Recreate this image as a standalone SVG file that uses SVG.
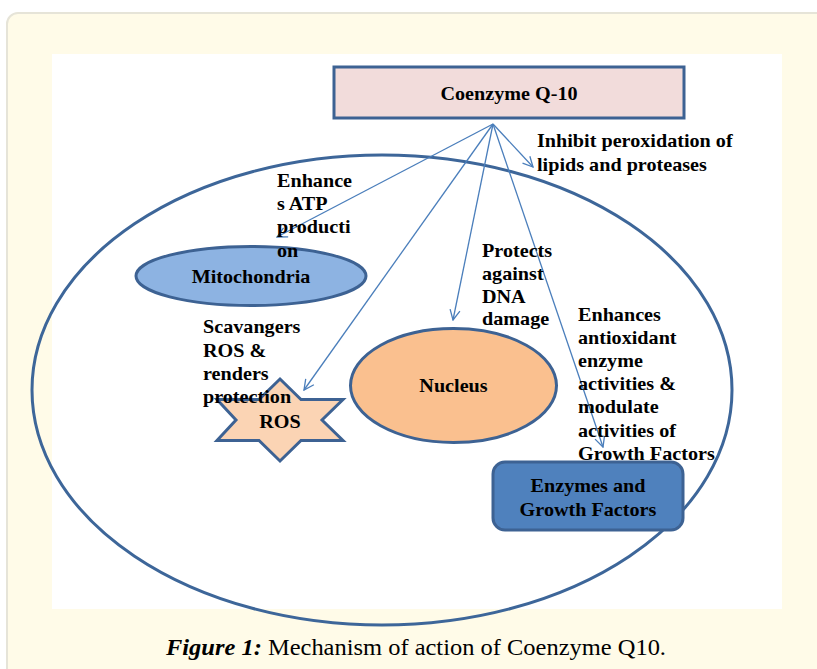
<svg xmlns="http://www.w3.org/2000/svg" width="817" height="669" viewBox="0 0 817 669">
<style>
.lbl{font-family:"Liberation Serif","Times New Roman",serif;font-weight:bold;font-size:18px;fill:#000}
.edge{stroke:#4a7ebb;stroke-width:1.3;fill:none}
.shape{stroke:#3d6293;stroke-width:3}
</style>
<defs>
<marker id="open" viewBox="0 0 12 12" refX="11" refY="6" markerWidth="12" markerHeight="12" markerUnits="userSpaceOnUse" orient="auto">
<path d="M1,1 L11,6 L1,11" fill="none" stroke="#4a7ebb" stroke-width="1.3"/>
</marker>
</defs>
<rect x="0" y="0" width="817" height="669" fill="#ffffff"/>
<rect id="panel" x="7" y="13" width="840" height="690" rx="11" fill="#fffbe8" stroke="#e6e4d8" stroke-width="2"/>
<rect id="canvas" x="52" y="54" width="730" height="555" fill="#ffffff"/>

<g id="cell">
<ellipse cx="382" cy="390" rx="350" ry="235" fill="none" stroke="#3d6699" stroke-width="3"/>
</g>

<g id="mitochondria">
<ellipse class="shape" cx="251" cy="276" rx="115" ry="29.5" fill="#8db3e2"/>
<g transform="translate(251,0) scale(1.12,1)"><text class="lbl" x="0" y="283" text-anchor="middle">Mitochondria</text></g>
</g>

<g id="nucleus">
<ellipse class="shape" cx="453.5" cy="385.5" rx="103" ry="57" fill="#fac08f"/>
<g transform="translate(453.5,0) scale(1.12,1)"><text class="lbl" x="0" y="392" text-anchor="middle">Nucleus</text></g>
</g>

<g id="ros">
<polygon class="shape" stroke-width="2.5" fill="#fbd4b4" points="280,379 301,399.5 343,399.5 322,420 343,440.5 301,440.5 280,461 259,440.5 217,440.5 236,420 217,399.5 259,399.5"/>
<g transform="translate(280,0) scale(1.12,1)"><text class="lbl" x="0" y="428" text-anchor="middle">ROS</text></g>
</g>

<g id="enzymes">
<rect class="shape" stroke-width="2.5" x="493" y="462" width="190" height="68" rx="12" fill="#4f81bd"/>
<g transform="translate(588,0) scale(1.12,1)">
<text class="lbl" x="0" y="492" text-anchor="middle">Enzymes and</text>
<text class="lbl" x="0" y="516" text-anchor="middle">Growth Factors</text>
</g>
</g>

<g id="coenzyme">
<rect class="shape" x="334" y="67" width="350" height="51" fill="#f2dcdb"/>
<g transform="translate(509,0) scale(1.12,1)"><text class="lbl" x="0" y="100" text-anchor="middle">Coenzyme Q-10</text></g>
</g>

<g id="connectors">
<line class="edge" x1="493" y1="124" x2="533" y2="167" marker-end="url(#open)"/>
<line class="edge" x1="493" y1="124" x2="277" y2="237" marker-end="url(#open)"/>
<line class="edge" x1="493" y1="124" x2="304" y2="390" marker-end="url(#open)"/>
<line class="edge" x1="493" y1="124" x2="453" y2="320" marker-end="url(#open)"/>
<line class="edge" x1="493" y1="124" x2="603" y2="447" marker-end="url(#open)"/>
</g>

<g id="labels">
<g transform="translate(537,0) scale(1.12,1)">
<text class="lbl" x="0" y="147">Inhibit peroxidation of</text>
<text class="lbl" x="0" y="171">lipids and proteases</text>
</g>
<g transform="translate(277,0) scale(1.12,1)">
<text class="lbl" x="0" y="187">Enhance</text>
<text class="lbl" x="0" y="210">s ATP</text>
<text class="lbl" x="0" y="233">producti</text>
<text class="lbl" x="0" y="257">on</text>
</g>
<g transform="translate(482,0) scale(1.12,1)">
<text class="lbl" x="0" y="257">Protects</text>
<text class="lbl" x="0" y="280">against</text>
<text class="lbl" x="0" y="303">DNA</text>
<text class="lbl" x="0" y="325">damage</text>
</g>
<g transform="translate(203,0) scale(1.12,1)">
<text class="lbl" x="0" y="333">Scavangers</text>
<text class="lbl" x="0" y="357">ROS &amp;</text>
<text class="lbl" x="0" y="380">renders</text>
<text class="lbl" x="0" y="403">protection</text>
</g>
<g transform="translate(578,0) scale(1.12,1)">
<text class="lbl" x="0" y="321">Enhances</text>
<text class="lbl" x="0" y="344">antioxidant</text>
<text class="lbl" x="0" y="367">enzyme</text>
<text class="lbl" x="0" y="390">activities &amp;</text>
<text class="lbl" x="0" y="413">modulate</text>
<text class="lbl" x="0" y="437">activities of</text>
<text class="lbl" x="0" y="460">Growth Factors</text>
</g>
</g>

<g id="caption">
<text x="416" y="655" text-anchor="middle" textLength="500" lengthAdjust="spacingAndGlyphs" font-family="Liberation Serif, Times New Roman, serif" font-size="23" fill="#000"><tspan font-weight="bold" font-style="italic">Figure 1:</tspan> Mechanism of action of Coenzyme Q10.</text>
</g>
</svg>
